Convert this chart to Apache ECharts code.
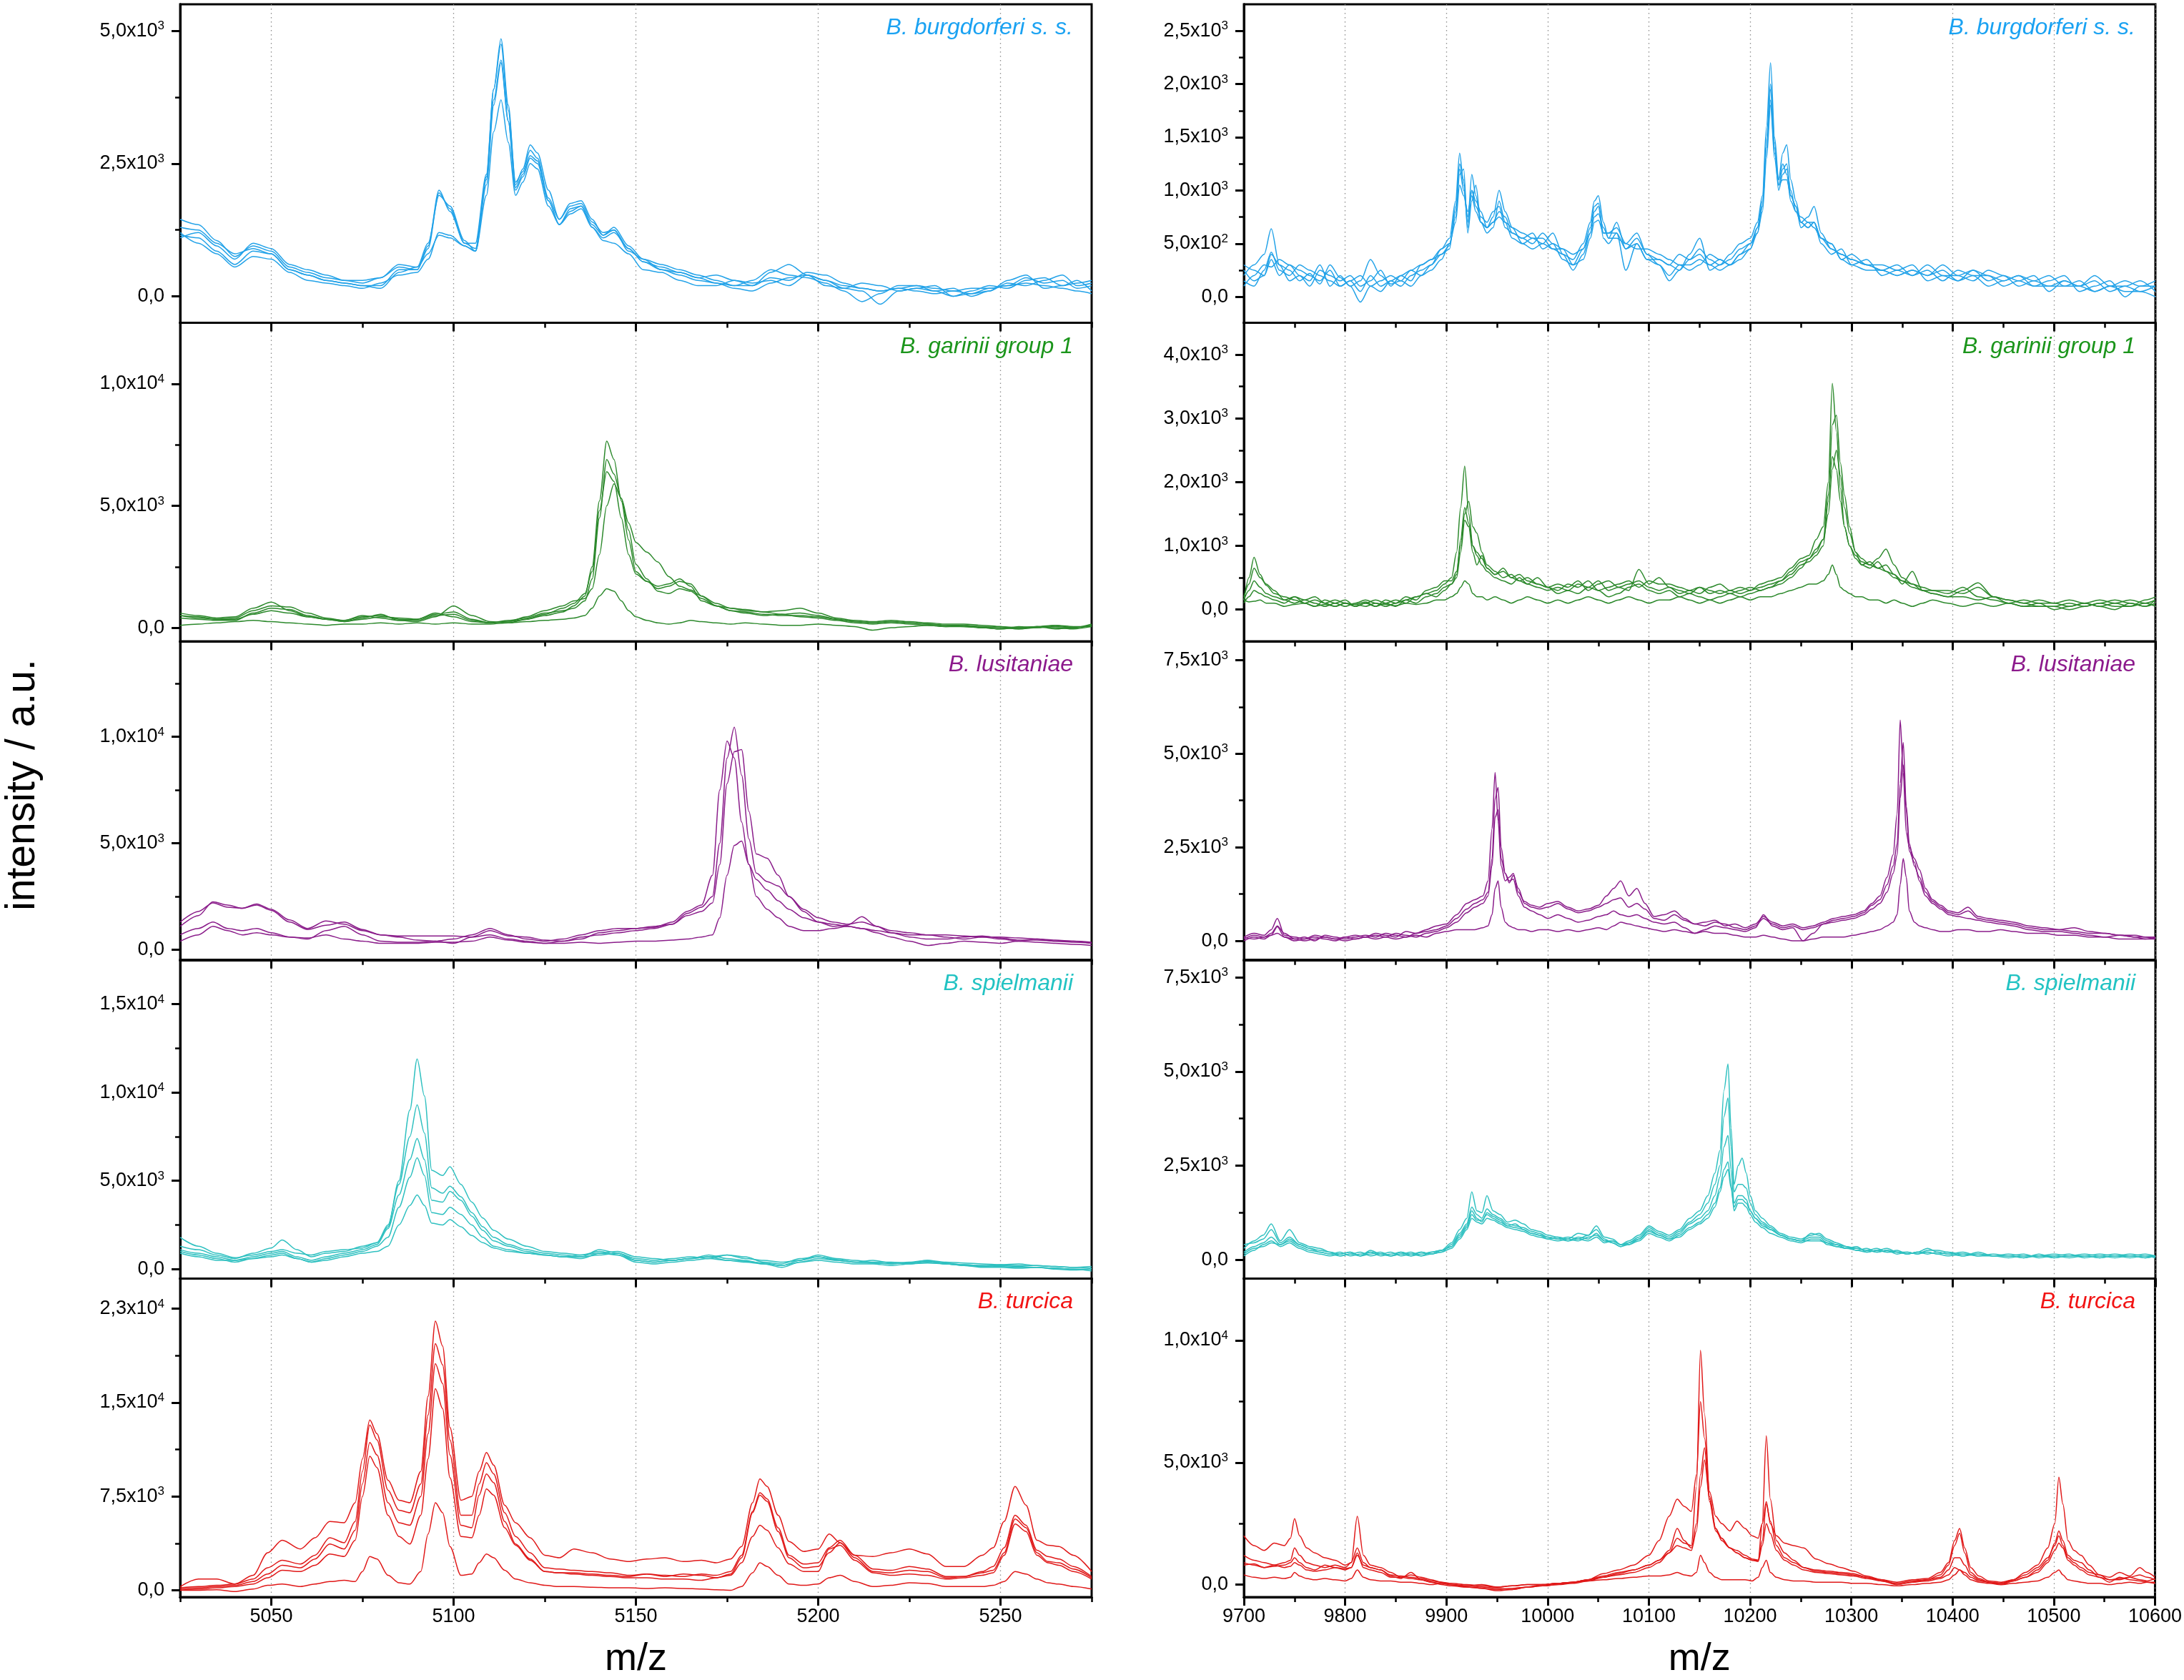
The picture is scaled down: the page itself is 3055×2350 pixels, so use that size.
<!DOCTYPE html>
<html>
<head>
<meta charset="utf-8">
<title>MALDI-TOF spectra</title>
<script src="https://cdn.jsdelivr.net/npm/echarts@6.0.0/dist/echarts.min.js"></script>
<style>
  html, body { margin: 0; padding: 0; background: #fff; }
  #main { width: 3055px; height: 2350px; }
</style>
</head>
<body>
<div id="main"></div>
<script>
// ---- species / panels ----
var species = ['B. burgdorferi s. s.', 'B. garinii group 1', 'B. lusitaniae', 'B. spielmanii', 'B. turcica'];

// ---- axis ticks ----
var xTicksLeft = [5050, 5100, 5150, 5200, 5250];
var xMinorLeft = [5025, 5075, 5125, 5175, 5225, 5275];
var xTicksRight = [9700, 9800, 9900, 10000, 10100, 10200, 10300, 10400, 10500, 10600];
var xMinorRight = [9750, 9850, 9950, 10050, 10150, 10250, 10350, 10450, 10550];

var yRangeLeft = [[-500, 5500], [-560, 12500], [-480, 14480], [-530, 17500], [-540, 24900]];
var yRangeRight = [[-245, 2750], [-500, 4500], [-510, 8000], [-500, 7965], [-510, 12535]];
var yTicksLeft = [[0, 2500, 5000], [0, 5000, 10000], [0, 5000, 10000], [0, 5000, 10000, 15000], [0, 7500, 15000, 22500]];
var yLabelsLeft = [['0,0', '2,5x10^3', '5,0x10^3'], ['0,0', '5,0x10^3', '1,0x10^4'], ['0,0', '5,0x10^3', '1,0x10^4'],
  ['0,0', '5,0x10^3', '1,0x10^4', '1,5x10^4'], ['0,0', '7,5x10^3', '1,5x10^4', '2,3x10^4']];
var yMinorLeft = [[1250, 3750], [2500, 7500], [2500, 7500, 12500], [2500, 7500, 12500], [3750, 11250, 18750]];
var yTicksRight = [[0, 500, 1000, 1500, 2000, 2500], [0, 1000, 2000, 3000, 4000], [0, 2500, 5000, 7500], [0, 2500, 5000, 7500], [0, 5000, 10000]];
var yLabelsRight = [['0,0', '5,0x10^2', '1,0x10^3', '1,5x10^3', '2,0x10^3', '2,5x10^3'],
  ['0,0', '1,0x10^3', '2,0x10^3', '3,0x10^3', '4,0x10^3'], ['0,0', '2,5x10^3', '5,0x10^3', '7,5x10^3'],
  ['0,0', '2,5x10^3', '5,0x10^3', '7,5x10^3'], ['0,0', '5,0x10^3', '1,0x10^4']];
var yMinorRight = [[250, 750, 1250, 1750, 2250], [500, 1500, 2500, 3500], [1250, 3750, 6250], [1250, 3750, 6250], [2500, 7500]];

// ---- left column (m/z 5025-5275) ----
var mzL1 = [5025,5030,5035,5040,5045,5050,5055,5060,5065,5070, 5075,5080,5085,5090,5093,5096,5099,5103,5106,5109,
  5111,5113,5115,5117,5119,5121,5123,5126,5129,5132, 5135,5138,5141,5144,5148,5152,5157,5162,5167,5172,
  5177,5182,5187,5192,5197,5202,5207,5212,5217,5222, 5227,5232,5237,5242,5247,5252,5257,5262,5267,5271, 5275];
var intL1 = [
  [1450,1350,1050,750,950,850,550,450,350,300, 250,350,550,500,900,1950,1650,1000,1000,2300,
   3900,4850,3600,2100,2400,2850,2700,2000,1450,1750, 1800,1450,1150,1250,850,700,600,500,400,300,
   200,200,350,300,450,400,250,150,100,150, 200,150,100,50,150,200,350,250,300,150, 200],
  [1150,1100,850,600,850,800,500,400,300,250, 200,150,450,550,1000,1900,1700,1050,850,2200,
   3700,4450,3300,2000,2250,2600,2500,1800,1350,1600, 1700,1300,1100,1200,900,650,550,450,350,400,
   300,250,300,200,400,300,150,100,-150,100, 150,100,0,50,100,300,400,150,200,300, 100],
  [1100,1200,950,700,1000,900,600,500,400,300, 300,350,600,550,800,1150,1100,950,850,1900,
   3100,3700,2900,1900,2150,2500,2400,1700,1350,1550, 1650,1300,1050,1000,800,500,450,300,200,200,
   300,200,450,600,400,200,150,250,200,100, 150,200,0,100,200,150,300,350,200,250, 300],
  [1300,1250,1000,800,900,800,500,400,300,250, 200,200,500,500,950,2000,1600,1000,900,2250,
   3900,4750,3500,2150,2350,2750,2600,1850,1450,1700, 1750,1400,1200,1250,900,650,500,400,300,250,
   200,300,500,400,350,250,100,-100,50,200, 200,100,150,0,100,250,200,300,400,200, 250],
  [1200,1000,800,550,750,700,450,300,250,200, 150,250,400,450,700,1200,1150,950,850,2100,
   3600,4400,3300,2050,2300,2650,2550,1800,1350,1650, 1700,1350,1150,1300,950,700,500,450,350,250,
   150,100,250,350,400,300,200,150,100,150, 100,50,100,150,150,200,250,200,150,100, 50]
];

var mzL2 = [5025,5030,5035,5040,5045,5050,5055,5060,5065,5070, 5075,5080,5085,5090,5095,5100,5105,5110,5115,5120,
  5125,5130,5133,5136,5138,5140,5142,5144,5146,5148, 5150,5153,5156,5159,5162,5165,5168,5172,5176,5180,
  5185,5190,5195,5200,5205,5210,5215,5220,5225,5230, 5235,5240,5245,5250,5255,5260,5265,5270,5275];
var intL2 = [
  [600,500,400,450,800,1050,700,450,350,300, 500,400,300,350,600,450,250,200,250,350,
   500,650,900,1300,2500,5200,7650,6900,5200,3600, 2300,1900,1600,1700,1900,1800,1300,900,800,700,
   650,550,600,500,350,250,200,250,200,150, 100,100,50,0,-50,50,-50,0,100],
  [500,450,350,400,700,900,850,600,400,300, 450,500,350,300,500,550,300,200,300,400,
   600,700,800,1100,2000,4500,6900,6300,5300,4300, 3500,3100,2700,2100,1700,1550,1300,1000,800,750,
   650,700,800,600,400,300,250,300,250,200, 150,150,100,50,0,50,100,0,150],
  [400,350,300,300,600,800,750,500,350,250, 400,550,300,250,450,900,500,250,200,350,
   550,800,1000,1400,2300,4800,6400,6000,4500,3000, 2200,1900,1700,1800,2000,1700,1100,900,700,600,
   500,550,450,400,300,200,150,200,150,100, 50,100,0,50,-50,0,50,0,100],
  [500,400,350,350,550,700,600,450,350,250, 350,450,400,350,550,650,350,200,250,450,
   700,900,1100,1200,1600,3000,5000,5900,5300,4000, 2600,2000,1500,1400,1600,1500,1200,900,700,650,
   550,500,500,450,350,250,200,250,200,150, 100,50,0,-50,50,0,100,50,50],
  [100,150,200,250,300,250,200,150,100,150, 150,200,150,200,150,200,150,150,200,250,
   300,350,400,500,800,1300,1600,1500,1100,700, 450,300,200,150,200,300,250,200,150,200,
   150,100,100,150,100,50,-100,0,50,100, 50,50,0,-50,0,50,0,-50,50]
];

var mzL3 = [5025,5030,5034,5038,5042,5046,5050,5055,5060,5065, 5070,5075,5080,5085,5090,5095,5100,5105,5110,5115,
  5120,5125,5130,5135,5140,5145,5150,5155,5160,5164, 5168,5171,5173,5175,5177,5179,5181,5183,5186,5189,
  5192,5196,5200,5204,5208,5212,5216,5220,5225,5230, 5235,5240,5245,5250,5255,5260,5265,5270,5275];
var intL3 = [
  [1300,1800,2200,2000,1950,2150,1900,1400,1000,1350, 1200,900,700,650,650,650,650,600,900,650,
   600,450,400,500,800,900,1000,1100,1200,1700, 2000,2500,5000,9000,10450,8200,5200,3600,3200,3000,
   2500,1900,1500,1300,1200,1300,1100,900,800,700, 700,650,600,600,550,500,450,400,300],
  [1100,1600,2250,2100,1950,2100,1850,1300,950,1150, 1300,950,700,600,450,400,500,700,1000,700,
   500,400,500,700,900,1000,1000,1050,1300,1800, 2100,3500,7500,9800,9000,6000,4000,3300,2800,2300,
   1900,1500,1300,1100,1150,1550,1100,800,600,500, 500,600,650,550,450,450,400,350,300],
  [700,1000,1300,1000,900,1000,800,600,500,900, 1100,700,400,350,350,400,300,600,700,500,
   400,300,400,600,700,800,900,1000,1200,1600, 1800,2200,4000,7800,9300,9400,6500,4500,4300,3500,
   2500,1800,1300,1200,1100,1000,900,800,700,700, 600,500,600,500,400,500,400,400,350],
  [400,700,1100,900,700,800,700,600,550,700, 500,400,300,300,300,350,350,400,600,450,
   350,300,300,350,300,350,400,400,450,500, 600,700,1500,3500,4900,5100,4000,2500,1900,1500,
   1100,900,900,1000,1100,1000,800,600,400,200, 300,400,350,300,400,350,300,250,200]
];

var mzL4 = [5025,5030,5035,5040,5045,5050,5053,5057,5061,5065, 5070,5075,5079,5082,5085,5088,5090,5092,5094,5097,
  5099,5102,5105,5108,5111,5115,5120,5125,5130,5135, 5140,5145,5150,5155,5160,5165,5170,5175,5180,5185,
  5190,5195,5200,5205,5210,5215,5220,5225,5230,5235, 5240,5245,5250,5255,5260,5265,5270,5275];
var intL4 = [
  [1800,1300,900,650,800,1000,1100,900,800,1000, 1100,1200,1500,2400,5000,9000,11900,9800,5600,5300,
   5800,4800,3800,2900,2200,1700,1300,1000,900,800, 900,1000,700,600,500,600,700,800,600,500,
   400,500,800,600,500,400,400,350,500,400, 350,300,250,300,200,150,100,150],
  [1300,1100,800,600,900,1200,1650,1100,700,900, 1000,1300,1500,2500,4800,7500,9300,7700,4600,4300,
   4700,4100,3200,2400,1800,1400,1100,900,800,700, 800,900,600,500,600,700,600,800,700,400,
   300,600,700,500,400,500,350,300,350,300, 250,200,250,200,200,150,100,50],
  [1100,900,700,500,700,900,1000,700,500,700, 900,1100,1400,2300,4200,6200,7400,6200,3900,3800,
   4400,3900,3000,2200,1600,1300,1000,800,700,700, 1100,900,500,400,500,600,800,600,500,300,
   100,400,600,500,400,350,300,400,500,300, 200,150,200,150,100,0,-50,0],
  [1000,800,600,400,600,800,900,600,400,600, 800,1000,1300,1800,3500,5200,6300,5300,3200,3100,
   3500,3100,2500,1800,1300,1100,900,800,700,600, 900,800,400,300,400,500,600,500,450,350,
   200,500,700,550,400,350,300,350,450,350, 250,200,150,100,100,50,0,-100],
  [900,700,500,500,600,700,800,600,400,500, 700,900,1000,1300,2500,3600,4200,3600,2600,2500,
   2800,2400,1900,1500,1200,1000,900,800,700,800, 1000,800,500,400,500,600,700,500,400,300,
   200,400,500,400,300,300,200,300,400,300, 200,100,100,50,100,50,0,0]
];

var mzL5 = [5025,5030,5035,5040,5045,5049,5053,5058,5062,5066, 5070,5073,5075,5077,5079,5082,5085,5088,5091,5093,
  5095,5097,5099,5102,5105,5107,5109,5111,5114,5117, 5121,5125,5129,5133,5138,5143,5148,5153,5158,5163,
  5168,5172,5176,5179,5182,5184,5186,5189,5192,5196, 5200,5203,5206,5210,5215,5220,5225,5230,5235,5240,
  5245,5248,5251,5254,5257,5260,5263,5266,5270,5275];
var intL5 = [
  [300,900,900,500,1200,3000,4000,3300,4200,5500, 5400,7000,10500,13600,12500,8800,7200,7000,9500,15500,
   21500,19500,13000,7200,7500,9500,11000,10000,6800,5400, 4200,2800,2600,3300,3000,2500,2300,2500,2600,2300,
   2400,2200,2500,3500,7000,8900,8300,6000,3900,3100, 3300,4500,3800,2800,2700,3000,3300,2900,1900,1900,
   2800,3400,5500,8300,6800,4000,3600,3500,2800,1500],
  [200,300,400,500,900,1800,2400,2100,2800,4200, 3800,5500,9500,13200,12000,8000,6400,6200,8500,14000,
   19700,18000,12000,6000,6000,8500,10200,9300,6200,4300, 3000,1800,1700,1600,1500,1400,1200,1300,1200,1100,
   1300,1200,1500,2800,6300,7800,7300,5000,2800,2100, 2200,3400,4000,2800,1700,1600,1900,1700,1100,1100,
   1500,1900,3400,6000,5200,3200,2700,2500,1900,1100],
  [100,200,300,400,700,1300,2000,1800,2500,3700, 3300,4800,8500,11800,10800,7000,5400,5200,7500,12500,
   18100,16500,10800,5200,5000,7600,9300,8600,5500,3700, 2500,1500,1400,1400,1300,1200,1100,1300,1100,1300,
   1200,1000,1300,2600,6200,7600,7100,4700,2600,1800, 1900,3000,3800,2600,1500,1400,1600,1500,1000,1100,
   1400,1600,3000,5700,5000,3000,2300,2200,1700,1000],
  [0,100,200,300,500,1000,1600,1500,2000,2900, 2700,4000,7500,10700,9800,6000,4300,3700,6000,10500,
   16100,14500,9000,4300,4200,6000,8100,7600,5000,3600, 2400,1500,1400,1300,1200,1100,1000,1000,900,900,
   800,1000,1200,2200,4300,5200,4800,3400,2100,1500, 1500,3300,3600,2400,1400,1200,1300,1200,900,1000,
   1200,1400,2800,5300,4700,2800,2200,2000,1500,900],
  [0,0,50,-100,100,400,500,300,500,700, 800,700,1500,2700,2500,1200,600,500,1500,4500,
   7000,6200,3500,1200,1300,2200,2900,2600,1600,900, 600,400,300,300,250,200,200,150,200,150,
   100,50,0,300,1400,2200,1900,1200,500,400, 500,1000,1200,700,300,400,600,550,300,300,
   300,400,700,1500,1300,900,600,500,300,100]
];

// ---- right column (m/z 9700-10600) ----
var mzR1 = [9700,9710,9720,9727,9735,9745,9755,9765,9775,9785, 9795,9805,9815,9825,9835,9845,9855,9865,9875,9885,
  9895,9903,9909,9913,9917,9921,9925,9929,9934,9940, 9946,9952,9958,9965,9975,9985,9995,10005,10015,10025,
  10035,10042,10046,10050,10055,10060,10068,10077,10088,10098, 10110,10120,10130,10140,10150,10160,10170,10180,10190,10200,
  10207,10212,10216,10220,10224,10228,10232,10236,10240,10245, 10250,10257,10263,10270,10280,10290,10300,10315,10330,10345,
  10360,10375,10390,10405,10420,10435,10450,10465,10480,10495, 10510,10525,10540,10555,10570,10585,10600];
var intR1 = [
  [200,300,400,640,300,250,150,220,120,300, 180,100,150,350,200,120,150,250,300,350,
   450,550,900,1350,1050,700,1150,950,700,650, 750,1000,800,650,600,550,500,450,400,350,
   500,700,900,950,700,550,700,450,550,400, 350,300,400,350,450,350,300,400,500,550,
   700,950,1600,2200,1500,1100,1350,1430,1100,900, 700,750,850,600,450,400,350,300,250,200,
   250,200,300,200,250,150,200,100,150,200, 100,150,50,100,150,100,100],
  [150,100,250,420,250,200,300,250,200,150, 100,150,50,200,100,150,100,200,250,300,
   400,480,800,1250,1100,650,1000,900,800,650, 700,800,750,600,550,500,600,500,350,300,
   450,650,850,880,600,600,650,500,600,400, 300,200,300,300,350,300,350,300,400,500,
   650,900,1500,2000,1450,1050,1200,1250,950,850, 650,700,700,550,500,350,300,250,250,300,
   200,250,150,250,200,200,100,150,200,50, 150,100,150,50,100,150,50],
  [300,250,200,400,300,150,200,150,300,100, 200,100,-50,100,150,200,150,100,200,250,
   350,500,750,1150,1200,600,900,1050,700,600, 650,900,700,550,500,450,500,600,400,250,
   400,600,800,850,550,500,600,250,500,350, 300,150,250,400,550,250,300,350,450,500,
   600,850,1400,1950,1400,1000,1150,1200,1000,800, 700,650,700,500,400,450,300,350,200,250,
   300,150,200,150,250,200,150,200,100,150, 200,50,100,150,0,100,150],
  [100,200,300,280,350,300,200,100,250,200, 150,200,100,150,250,100,200,150,300,350,
   400,450,850,1200,1000,750,1000,850,750,700, 800,850,650,600,550,600,450,500,450,400,
   450,600,750,780,650,550,550,500,450,450, 400,350,300,250,300,400,350,300,350,450,
   650,850,1400,1850,1350,1100,1250,1150,900,800, 750,700,650,550,450,400,350,300,300,250,
   200,300,200,200,150,250,200,150,100,100, 150,100,200,100,50,50,100],
  [250,150,200,350,200,300,250,200,150,250, 100,150,200,100,50,150,200,250,200,300,
   450,500,700,1050,950,800,950,800,700,650, 700,750,700,650,500,550,550,450,450,300,
   350,550,700,720,600,600,600,450,500,350, 350,300,250,350,400,300,250,300,400,450,
   600,800,1300,1800,1300,1050,1100,1100,950,850, 700,650,700,550,500,350,400,300,250,200,
   250,200,250,150,200,100,150,200,150,100, 100,100,50,100,100,50,0]
];

var mzR2 = [9700,9705,9710,9716,9722,9730,9740,9750,9760,9770, 9780,9790,9800,9810,9820,9830,9840,9850,9860,9870,
  9880,9890,9898,9905,9910,9914,9918,9922,9926,9930, 9935,9940,9948,9956,9964,9972,9980,9990,10000,10010,
  10020,10030,10040,10050,10060,10070,10080,10090,10100,10110, 10120,10130,10140,10150,10160,10170,10180,10190,10200,10210,
  10220,10230,10240,10250,10258,10265,10272,10277,10281,10285, 10289,10293,10298,10304,10310,10318,10326,10334,10342,10350,
  10360,10370,10380,10395,10410,10425,10440,10455,10470,10485, 10500,10515,10530,10545,10560,10575,10590,10600];
var intR2 = [
  [150,500,820,550,380,250,200,150,100,150, 100,50,100,80,120,50,100,150,100,200,
   250,300,400,500,900,1600,2250,1500,1000,900, 800,650,550,600,500,550,450,400,350,400,
   350,450,300,400,450,350,300,630,400,500, 350,300,250,350,300,250,300,350,300,400,
   450,500,650,800,850,1100,1300,2000,3550,2800, 1900,1300,1000,800,700,650,750,600,500,450,
   350,300,300,250,350,200,150,100,150,100, 100,50,100,150,100,50,150,200],
  [200,400,650,500,400,300,150,200,100,50, 150,100,50,100,150,100,50,100,200,150,
   300,350,450,450,600,1000,1500,1700,1300,1200, 900,700,600,500,550,450,500,400,350,300,
   400,350,450,300,350,400,450,350,450,400, 400,350,300,250,350,400,300,250,300,350,
   400,450,550,700,750,850,1000,1700,2900,3050, 2300,1800,1300,900,800,700,800,950,700,500,
   400,350,300,300,250,350,200,150,100,50, 50,100,50,100,150,100,50,100],
  [100,200,300,250,200,150,100,200,150,100, 50,100,150,50,100,150,100,50,150,200,
   250,200,300,400,500,900,1400,1300,900,700, 850,650,550,650,500,450,400,500,350,250,
   300,250,350,300,200,250,350,400,300,250, 300,200,250,200,150,200,250,200,250,300,
   350,400,500,650,800,950,1100,1500,2200,2500, 2100,1600,1200,900,700,750,650,600,550,400,
   600,300,250,200,300,420,200,100,50,100, 0,50,100,50,0,100,50,150],
  [150,300,450,350,250,200,150,100,150,200, 100,150,100,50,100,50,150,100,150,100,
   200,250,350,400,550,1100,1600,1350,1000,850, 700,600,500,450,400,500,400,350,300,350,
   300,400,350,450,300,350,400,450,350,300, 350,250,300,350,250,300,250,300,350,300,
   350,450,600,750,800,900,1100,1800,2400,2200, 1700,1300,1000,850,750,700,650,700,550,450,
   400,300,250,200,200,150,200,150,100,150, 100,150,100,50,100,150,100,150],
  [150,120,130,150,100,100,50,80,100,50, 80,50,100,80,50,100,80,60,100,80,
   100,150,150,200,250,350,450,400,250,200, 200,150,200,150,100,150,200,150,100,150,
   100,150,200,150,100,150,200,150,100,150, 150,200,150,100,150,100,150,200,150,200,
   200,250,300,350,400,400,450,550,700,550, 350,300,250,200,200,150,150,100,150,100,
   50,100,150,100,50,100,50,100,50,50, 50,0,50,100,50,50,100,50]
];

var mzR3 = [9700,9710,9720,9727,9733,9740,9750,9760,9770,9780, 9790,9800,9810,9820,9830,9840,9850,9860,9870,9880,
  9890,9900,9910,9920,9928,9936,9941,9945,9948,9951, 9954,9958,9962,9966,9971,9977,9984,9992,10000,10010,
  10020,10030,10040,10050,10058,10065,10072,10080,10088,10096, 10105,10115,10125,10135,10145,10155,10165,10175,10185,10195,
  10205,10213,10222,10232,10242,10252,10262,10272,10282,10292, 10302,10312,10320,10328,10335,10341,10345,10348,10351,10354,
  10357,10362,10367,10373,10380,10388,10396,10405,10415,10425, 10435,10447,10460,10475,10490,10505,10520,10535,10550,10565,
  10580,10590,10600];
var intR3 = [
  [100,200,150,300,600,150,100,50,150,100, 50,100,150,100,200,150,100,250,200,300,
   400,450,700,1000,1100,1200,1600,3000,4500,3200, 2000,1600,1700,1800,1300,1050,950,900,1000,1050,
   900,800,850,950,1200,1400,1600,1200,1400,1000, 650,700,800,600,450,500,550,400,450,350,
   450,650,500,400,450,350,400,500,600,650, 700,800,1000,1200,1700,2300,3400,5900,4500,2900,
   2500,2200,1900,1400,1100,950,800,750,900,650, 600,550,500,400,350,300,350,250,200,150,
   150,100,100],
  [50,150,100,200,400,200,50,100,0,150, 100,50,100,150,100,200,150,100,200,250,
   300,400,600,850,1000,1100,1300,2200,3800,4100, 2500,1800,1550,1750,1400,1000,900,850,900,1000,
   850,750,800,900,1000,1100,1150,900,1000,850, 600,550,700,550,450,400,500,450,350,300,
   400,600,450,350,400,300,350,450,550,600, 650,750,950,1100,1500,2000,2600,4200,5300,3600,
   2600,2000,1700,1300,1050,900,750,700,800,600, 550,500,450,350,300,300,250,200,200,150,
   100,100,50],
  [0,100,50,150,380,100,0,50,100,50, 0,100,50,100,150,100,200,150,100,200,
   250,350,500,750,900,1000,1200,2000,3300,3500, 2200,1800,1600,1650,1200,900,800,700,600,700,
   600,500,550,650,700,800,700,650,700,600, 500,450,500,350,200,300,400,350,300,250,
   350,700,400,300,350,0,200,450,500,550, 600,700,850,1000,1300,1800,2300,3800,4700,3500,
   2400,2100,1600,1200,1000,850,700,650,600,550, 500,450,400,300,250,250,200,150,100,150,
   100,50,100],
  [100,50,100,150,200,100,50,0,50,100, 50,0,50,100,50,100,50,100,150,100,
   200,250,300,300,300,350,400,700,1400,1600, 900,500,400,350,300,300,250,300,300,250,
   300,250,300,350,300,400,500,450,400,350, 300,250,300,250,200,250,200,200,150,100,
   100,150,100,50,0,0,50,100,100,100, 150,200,250,300,400,500,700,1500,2200,1700,
   800,500,400,350,300,250,250,300,300,250, 250,300,250,200,200,150,150,100,100,50,
   50,50,50]
];

var mzR4 = [9700,9710,9719,9727,9736,9745,9755,9765,9775,9785, 9795,9805,9815,9825,9835,9845,9855,9865,9875,9885,
  9895,9905,9913,9920,9925,9930,9935,9940,9946,9953, 9960,9968,9976,9984,9992,10000,10010,10020,10030,10040,
  10048,10056,10064,10072,10080,10090,10100,10110,10120,10130, 10140,10150,10158,10165,10170,10174,10178,10181,10184,10188,
  10192,10196,10200,10205,10212,10220,10230,10240,10250,10260, 10268,10276,10285,10295,10305,10315,10325,10335,10345,10355,
  10365,10375,10385,10395,10410,10425,10440,10455,10470,10485, 10500,10515,10530,10545,10560,10575,10590,10600];
var intR4 = [
  [300,500,650,950,500,800,450,350,300,200, 150,200,100,250,150,100,200,150,100,200,
   250,450,800,1100,1800,1300,1250,1700,1300,1200, 1000,1050,950,800,750,650,600,550,700,650,
   900,600,550,400,500,650,900,750,650,800, 1100,1300,1700,2300,2900,4500,5200,3500,2000,2500,
   2700,2300,1700,1300,1100,900,700,600,550,650, 700,550,450,350,300,250,300,200,250,150,
   200,300,200,150,200,100,150,100,150,50, 100,150,50,100,150,100,50,100],
  [400,450,550,800,450,600,400,300,250,200, 100,150,200,100,150,200,100,150,200,150,
   200,400,700,950,1400,1200,1100,1350,1200,1100, 950,900,850,750,700,600,550,600,550,650,
   800,550,450,350,450,600,850,700,600,750, 1000,1200,1500,2000,2500,3800,4300,3000,1800,2000,
   2000,1900,1500,1200,1000,850,650,550,500,700, 650,500,400,300,350,200,250,300,200,200,
   150,250,250,200,150,150,100,150,100,100, 150,100,100,50,100,150,100,50],
  [200,350,450,600,400,500,350,250,200,150, 200,100,150,200,100,150,200,100,150,200,
   250,350,650,900,1300,1100,1000,1250,1150,1050, 900,950,800,700,650,550,600,500,600,550,
   700,500,500,400,400,550,800,650,550,700, 950,1100,1300,1700,2200,3000,3300,2400,1500,1700,
   1700,1600,1300,1100,900,800,650,550,500,600, 600,450,400,350,250,300,200,250,200,150,
   200,200,150,200,100,200,100,100,50,150, 50,100,150,100,50,100,150,100],
  [100,250,400,500,350,450,300,200,150,100, 150,200,100,150,200,100,150,200,100,150,
   200,300,550,800,1100,1000,950,1100,1050,950, 850,800,750,650,600,550,500,550,500,600,
   650,500,450,350,400,500,700,600,500,650, 850,1000,1200,1500,1900,2400,2600,2000,1300,1500,
   1500,1400,1200,1000,850,700,600,500,450,550, 550,400,350,300,300,250,200,250,150,200,
   150,200,150,100,150,100,100,50,100,100, 100,50,100,150,100,50,100,100],
  [150,300,350,450,400,550,400,300,200,150, 100,150,100,200,150,100,150,100,200,150,
   250,350,600,850,1200,1050,1050,1200,1100,1000, 900,850,800,700,650,600,550,500,550,500,
   600,450,500,400,450,550,750,650,550,600, 800,950,1100,1400,1800,2200,2400,1900,1400,1600,
   1600,1500,1300,1100,950,800,650,550,500,500, 500,450,350,300,250,200,250,200,200,150,
   200,150,200,150,100,150,100,100,50,100, 50,100,100,50,100,100,50,100]
];

var mzR5 = [9700,9710,9720,9730,9740,9746,9750,9755,9762,9770, 9780,9790,9800,9806,9812,9818,9825,9835,9845,9855,
  9865,9875,9885,9895,9905,9920,9935,9950,9965,9980, 9995,10010,10025,10040,10055,10070,10085,10100,10110,10120,
  10128,10135,10142,10147,10151,10155,10160,10166,10172,10180, 10187,10195,10202,10208,10212,10216,10220,10226,10234,10243,
  10253,10265,10278,10290,10302,10315,10330,10345,10360,10375, 10388,10396,10402,10407,10412,10418,10426,10436,10448,10460,
  10472,10484,10494,10501,10505,10509,10514,10520,10527,10535, 10545,10555,10565,10575,10585,10592,10600];
var intR5 = [
  [2000,1600,1400,1700,1600,1900,2700,2000,1500,1300, 1100,1000,800,900,1500,900,700,600,400,350,
   300,250,150,100,50,0,-50,-100,-50,0, 0,50,100,200,450,600,800,1200,1800,2800,
   3500,3200,3000,4500,7500,6000,3800,2800,2500,2200, 2600,2300,2000,1900,2500,3400,2500,2000,1700,1600,
   1500,1050,850,700,550,350,200,100,200,250, 500,900,1800,2300,1500,700,350,150,100,200,
   500,800,1500,2500,4400,3300,1800,1400,1200,800, 400,300,500,350,700,500,300],
  [1200,1000,900,800,900,1000,1500,1200,900,800, 700,800,700,900,2800,1200,800,700,500,300,
   400,300,200,100,0,-100,-150,-200,-150,-100, -50,0,50,150,300,400,500,700,900,1300,
   1900,1700,1600,4000,9600,7000,3600,2300,1800,1500, 1400,1200,1050,1000,2500,6100,3500,1800,1300,1000,
   700,600,550,500,450,300,150,50,150,200, 400,800,1600,2100,1300,500,250,100,50,150,
   300,600,1000,1700,2200,1800,1200,1000,900,600, 300,200,250,300,200,150,250],
  [900,800,700,750,800,900,1100,900,700,600, 800,700,600,700,1200,800,700,600,350,250,
   500,200,100,50,0,-50,-100,-150,-200,-100, -50,0,100,200,350,500,600,800,1000,1400,
   2300,1800,1500,2500,4500,5600,3400,2200,1900,1500, 1300,1100,1000,1000,1800,3300,2600,1600,1100,900,
   700,550,500,450,400,300,200,0,100,200, 300,600,1100,1100,800,400,200,100,50,200,
   400,700,1100,1600,2000,1600,1100,900,700,500, 400,200,200,300,400,300,200],
  [800,850,700,800,700,750,900,800,600,550, 600,700,650,700,1300,700,600,500,300,300,
   250,200,100,0,-50,-100,-150,-250,-200,-100, 0,50,100,200,300,450,600,800,1000,1300,
   1600,1500,1400,2200,4000,5100,3500,2300,1900,1500, 1300,1100,1000,950,1600,2500,2100,1400,1000,800,
   600,500,450,400,350,250,150,0,100,150, 250,400,700,600,500,300,150,100,0,150,
   300,500,900,1400,1700,1500,1000,800,600,400, 300,100,300,200,150,100,100],
  [400,300,250,300,250,300,500,350,250,200, 250,200,150,250,600,300,200,150,150,100,
   100,50,0,50,0,-50,0,-100,-50,0, 0,50,100,150,200,250,300,350,350,400,
   500,400,350,500,1200,900,500,300,200,200, 200,200,150,300,700,1000,500,300,200,150,
   150,100,100,100,50,50,0,-50,0,50, 100,200,400,600,400,200,100,50,0,50,
   100,150,300,500,600,400,200,150,100,50, 50,0,50,100,50,100,50]
];

// ---- styling ----
var lineColors = ['#22a2e8', '#2c892c', '#8a1c8a', '#2ec0c0', '#e01818'];
var labelColors = ['#1aa2f2', '#1b951b', '#8c1a8c', '#22c3c3', '#f21414'];
var fontFamily = '"Liberation Sans", Arial, sans-serif';

var leftMz = [mzL1, mzL2, mzL3, mzL4, mzL5];
var leftInt = [intL1, intL2, intL3, intL4, intL5];
var rightMz = [mzR1, mzR2, mzR3, mzR4, mzR5];
var rightInt = [intR1, intR2, intR3, intR4, intR5];

var gridLeft = [252, 1740];
var gridWidth = 1275;
var gridTop = 6;
var panelH = 445.6;

function pairs(xs, ys) {
  var out = [];
  for (var i = 0; i < xs.length && i < ys.length; i++) out.push([xs[i], ys[i]]);
  return out;
}

function richLabel(s) {
  var parts = s.split('^');
  if (parts.length === 1) return '{m|' + s + '}';
  return '{m|' + parts[0] + '}{e|' + parts[1] + '}';
}

function buildOption() {
  var option = {
    animation: false,
    backgroundColor: '#ffffff',
    textStyle: { fontFamily: fontFamily },
    title: [], grid: [], xAxis: [], yAxis: [], series: [],
    graphic: [{
      type: 'text',
      x: 32, y: 1098,
      rotation: Math.PI / 2,
      style: {
        text: 'intensity / a.u.',
        fill: '#000',
        font: '57px ' + fontFamily,
        align: 'center',
        verticalAlign: 'middle'
      }
    }]
  };

  for (var col = 0; col < 2; col++) {
    for (var row = 0; row < 5; row++) {
      var p = col * 5 + row;
      var panelTop = gridTop + row * panelH;
      var xmin = col === 0 ? 5025 : 9700;
      var xmax = col === 0 ? 5275 : 10600;
      var xt = col === 0 ? xTicksLeft : xTicksRight;
      var xm = col === 0 ? xMinorLeft : xMinorRight;
      var yr = col === 0 ? yRangeLeft[row] : yRangeRight[row];
      var yt = col === 0 ? yTicksLeft[row] : yTicksRight[row];
      var yl = col === 0 ? yLabelsLeft[row] : yLabelsRight[row];
      var ym = col === 0 ? yMinorLeft[row] : yMinorRight[row];
      var mz = col === 0 ? leftMz[row] : rightMz[row];
      var ints = col === 0 ? leftInt[row] : rightInt[row];
      var isBottom = row === 4;

      option.grid.push({
        left: gridLeft[col], top: panelTop, width: gridWidth, height: panelH,
        show: true, borderColor: '#000', borderWidth: 3
      });

      option.title.push({
        text: species[row],
        right: col === 0 ? 1549 : 63,
        top: panelTop + 12,
        textStyle: { fontSize: 32, fontStyle: 'italic', fontWeight: 'normal', color: labelColors[row], fontFamily: fontFamily }
      });

      option.xAxis.push({
        gridIndex: p, type: 'value', min: xmin, max: xmax, position: 'bottom',
        axisLine: { show: true, onZero: false, lineStyle: { color: '#000', width: 3 } },
        axisTick: { show: true, customValues: xt, length: 12, lineStyle: { color: '#000', width: 3 } },
        axisLabel: {
          show: isBottom, customValues: xt, fontSize: 27, color: '#000', margin: 14, fontFamily: fontFamily,
          formatter: function (v) { return String(v); }
        },
        splitLine: { show: true, lineStyle: { color: '#8c8c8c', type: [1.5, 4.5], width: 1.3 } },
        name: isBottom ? 'm/z' : '',
        nameLocation: 'middle', nameGap: 60,
        nameTextStyle: { fontSize: 54, color: '#000', fontFamily: fontFamily }
      });
      option.xAxis.push({
        gridIndex: p, type: 'value', min: xmin, max: xmax, position: 'bottom',
        axisLine: { show: true, onZero: false, lineStyle: { color: '#000', width: 3 } },
        axisTick: { show: true, customValues: xm, length: 7, lineStyle: { color: '#000', width: 2.5 } },
        axisLabel: { show: false },
        splitLine: { show: false }
      });

      option.yAxis.push({
        gridIndex: p, type: 'value', min: yr[0], max: yr[1], position: 'left',
        axisLine: { show: true, onZero: false, lineStyle: { color: '#000', width: 3 } },
        axisTick: { show: true, customValues: yt, length: 12, lineStyle: { color: '#000', width: 3 } },
        axisLabel: {
          show: true, customValues: yt, margin: 22, color: '#000',
          formatter: (function (labels, ticks) {
            return function (v) {
              var i = ticks.indexOf(v);
              return i < 0 ? '' : richLabel(labels[i]);
            };
          })(yl, yt),
          rich: {
            m: { fontSize: 27, color: '#000', fontFamily: fontFamily, lineHeight: 30 },
            e: { fontSize: 17, color: '#000', fontFamily: fontFamily, verticalAlign: 'top', lineHeight: 30, padding: [0, 0, 14, 0] }
          }
        },
        splitLine: { show: false }
      });
      option.yAxis.push({
        gridIndex: p, type: 'value', min: yr[0], max: yr[1], position: 'left',
        axisLine: { show: true, onZero: false, lineStyle: { color: '#000', width: 3 } },
        axisTick: { show: true, customValues: ym, length: 7, lineStyle: { color: '#000', width: 2.5 } },
        axisLabel: { show: false },
        splitLine: { show: false }
      });

      for (var k = 0; k < ints.length; k++) {
        option.series.push({
          type: 'line',
          xAxisIndex: 2 * p, yAxisIndex: 2 * p,
          data: pairs(mz, ints[k]),
          symbol: 'none', showSymbol: false,
          smooth: 0.3, smoothMonotone: 'x',
          silent: true,
          lineStyle: { color: lineColors[row], width: 1.5 }
        });
      }
    }
  }
  return option;
}

var chart = echarts.init(document.getElementById('main'));
chart.setOption(buildOption());
</script>
</body>
</html>
